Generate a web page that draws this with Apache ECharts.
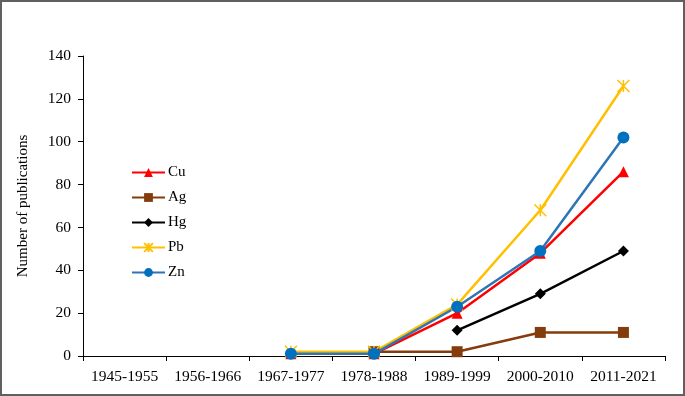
<!DOCTYPE html>
<html>
<head>
<meta charset="utf-8">
<script src="https://cdn.jsdelivr.net/npm/echarts@6/dist/echarts.min.js"></script>
<style>
html,body{margin:0;padding:0;background:#fff;}
#main{width:685px;height:396px;box-sizing:border-box;border:2px solid #606060;}
</style>
</head>
<body>
<div id="main"></div>
<script>
// 数据
var periods = ["1945-1955","1956-1966","1967-1977","1978-1988","1989-1999","2000-2010","2011-2021"];
var cu = [null, null, 1, 1, 20, 48, 86];
var ag = [null, null, null, 2, 2, 11, 11];
var hg = [null, null, null, null, 12, 29, 49];
var pb = [null, null, 2, 2, 24, 68, 126];
var zn = [null, null, 1, 1, 23, 49, 102];

var font = '"Liberation Serif","DejaVu Serif",serif';

function mkSeries(name, data, color, symbol, size, markerColor){
	return {
		name: name,
		type: 'line',
		data: data,
		symbol: symbol,
		symbolSize: size,
		lineStyle: {color: color, width: 2.5},
		itemStyle: {color: markerColor || color},
		connectNulls: false,
		animation: false
	};
}

var myChart = echarts.init(document.getElementById('main'));
var pbSeries = mkSeries('Pb', pb, '#FFC000', 'path://M0,0L10,10M10,0L0,10M5,0L5,10', 12);
pbSeries.itemStyle = {color: 'none', borderColor: '#FFC000', borderWidth: 1.5};

var option = {
	animation: false,
	grid: {left: 81, right: 18, top: 54, bottom: 38},
	legend: {
		orient: 'vertical',
		left: 129,
		top: 163,
		padding: 0,
		itemWidth: 33,
		itemHeight: 11,
		itemGap: 10,
		textStyle: {fontFamily: font, fontSize: 15, color: '#000', padding: [0, 0, 0, -2]},
		data: ['Cu','Ag','Hg','Pb','Zn']
	},
	xAxis: {										//X轴
		type: 'category',
		data: periods,
		boundaryGap: true,
		axisLine: {lineStyle: {color: '#000', width: 1}},
		axisTick: {show: true, length: 5, lineStyle: {color: '#000'}},
		axisLabel: {fontFamily: font, fontSize: 15.5, color: '#000', margin: 13, interval: 0}
	},
	yAxis: {										//Y轴
		type: 'value',
		min: 0,
		max: 140,
		interval: 20,
		name: 'Number of publications',
		nameLocation: 'middle',
		nameGap: 52,
		nameTextStyle: {fontFamily: font, fontSize: 15, color: '#000'},
		axisLine: {show: true, lineStyle: {color: '#000', width: 1}},
		axisTick: {show: true, length: 5, lineStyle: {color: '#000'}},
		splitLine: {show: false},
		axisLabel: {fontFamily: font, fontSize: 15.5, color: '#000', margin: 12}
	},
	series: [
		mkSeries('Cu', cu, '#FF0000', 'triangle', 11),
		mkSeries('Ag', ag, '#843C0C', 'rect', 11),
		mkSeries('Hg', hg, '#000000', 'diamond', 11),
		pbSeries,
		mkSeries('Zn', zn, '#2E75B6', 'circle', 12, '#0070C0')
	]
};
myChart.setOption(option);
</script>
</body>
</html>
